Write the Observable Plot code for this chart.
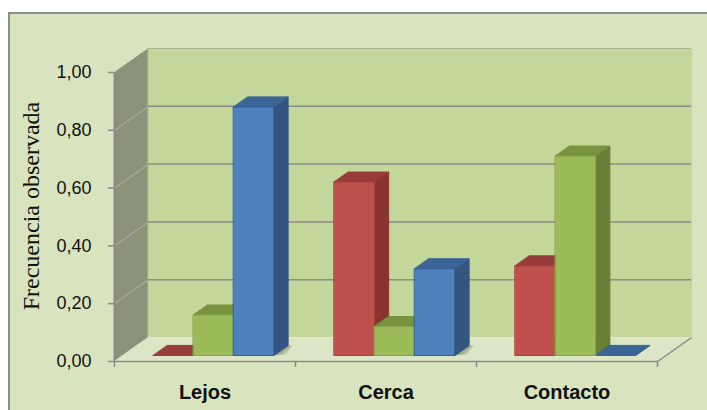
<!DOCTYPE html>
<html>
<head>
<meta charset="utf-8">
<script src="https://cdn.jsdelivr.net/npm/d3@7"></script>
<script src="https://cdn.jsdelivr.net/npm/@observablehq/plot@0.6"></script>
<style>
  html, body { margin: 0; padding: 0; background: #ffffff; }
  #chart { position: relative; width: 707px; height: 410px; overflow: hidden; }
  #frame {
    position: absolute; left: 8px; top: 12px; width: 720px; height: 420px;
    background: #d8e4bd; border: 2px solid #8e8e8e; box-sizing: border-box;
  }
  #chart svg { position: absolute; left: 0; top: 0; background: transparent; overflow: visible; }
</style>
</head>
<body>
<div id="chart"><div id="frame"></div></div>
<script>
// Observed frequency per distance category, one array per series
const categories = ["Lejos", "Cerca", "Contacto"];
const serie1 = [0.00, 0.60, 0.31];
const serie2 = [0.14, 0.10, 0.69];
const serie3 = [0.86, 0.30, 0.00];
const yTicks = [0, 0.2, 0.4, 0.6, 0.8, 1.0];
const yTitle = "Frecuencia observada";

const series = [serie1, serie2, serie3];

// Colours for each series: front face, top face, side face, outline
const palette = [
  {front: "#c0504d", top: "#973c3a", side: "#8a3432", edge: "#a4413e"},
  {front: "#9bbb59", top: "#77933d", side: "#687f36", edge: "#87a54a"},
  {front: "#4f81bd", top: "#3b6497", side: "#33557f", edge: "#2e5d97"}
];

// Layout
const W = 707, H = 410;
const ML = 114, MR = 50, MT = 72, MB = 49;
const PX_X = (W - ML - MR) / categories.length; // pixels per category
const PX_Y = H - MT - MB;                        // pixels per unit of frequency

// Oblique depth of the walls, converted to data units
const DX = 34 / PX_X, DY = 24 / PX_Y;
const F0 = 0.25;      // depth of the bars' front face (fraction of the floor depth)
const B = 0.42;       // depth of the bars themselves
const BAR = 1 / 4.5;  // bar width in category units
const GAP = 0.75;     // leading gap in bar widths

// Polygon faces, flattened to vertex rows for a closed line mark
function polys(list) {
  const rows = [];
  list.forEach((p, k) => p.pts.forEach(([x, y]) => rows.push({id: p.id ?? k, x, y, fill: p.fill, stroke: p.stroke})));
  return rows;
}

const sides = [], tops = [], fronts = [], shadows = [];
categories.forEach((c, i) => {
  series.forEach((s, j) => {
    const v = s[i], col = palette[j];
    const x1 = i + (GAP + j) * BAR + F0 * DX, x2 = x1 + BAR;
    const y0 = F0 * DY, y1 = v + F0 * DY;
    const bx = B * DX, by = B * DY;
    const id = `${c}-${j}`;
    if (v > 0) {
      // soft shadow cast on the floor to the right of the bar
      [4, 8, 12].forEach((w, k) => {
        const sw = w / PX_X;
        shadows.push({id: `${id}h${k}`, fill: "#2a3320", stroke: "none",
          pts: [[x2, y0], [x2 + bx, y0 + by], [x2 + bx + sw * 0.4, y0 + by], [x2 + sw, y0 + 1 / PX_Y]]});
      });
      sides.push({id: id + "s", fill: col.side, stroke: col.side,
        pts: [[x2, y0], [x2 + bx, y0 + by], [x2 + bx, y1 + by], [x2, y1]]});
      fronts.push({id: id + "f", fill: col.front, stroke: col.edge,
        pts: [[x1, y0], [x2, y0], [x2, y1], [x1, y1]]});
    }
    tops.push({id: id + "t", fill: col.top, stroke: col.top,
      pts: [[x1, y1], [x2, y1], [x2 + bx, y1 + by], [x1 + bx, y1 + by]]});
  });
});

const nCat = categories.length;
const walls = [
  {id: "side", fill: "#8a927a", stroke: "#8a927a", pts: [[0, 0], [DX, DY], [DX, 1 + DY], [0, 1]]},
  {id: "back", fill: "#c4d79b", stroke: "#c4d79b", pts: [[DX, DY], [nCat + DX, DY], [nCat + DX, 1 + DY], [DX, 1 + DY]]},
  {id: "floor", fill: "#dce6c6", stroke: "#e2eacf", pts: [[0, 0], [nCat, 0], [nCat + DX, DY], [DX, DY]]}
];

const fmt = d => d.toFixed(2).replace(".", ",");
const face = (rows, extra = {}) => Plot.line(rows, {x: "x", y: "y", z: "id", fill: "fill", stroke: "stroke", strokeWidth: 1, curve: "linear-closed", strokeLinejoin: "round", ...extra});

const chart = Plot.plot({
  width: W, height: H,
  marginLeft: ML, marginRight: MR, marginTop: MT, marginBottom: MB,
  x: {domain: [0, nCat], axis: null},
  y: {domain: [0, 1], axis: null},
  color: {type: "identity"},
  style: {background: "transparent", overflow: "visible"},
  marks: [
    face(polys(walls)),
    // back-wall gridlines
    Plot.ruleY(yTicks.filter(v => v > 0 && v < 1), {y: v => v + DY, x1: () => DX, x2: () => nCat + DX, stroke: "#8a8a8a", strokeWidth: 1.5}),
    Plot.ruleY([1], {y: v => v + DY, x1: () => DX, x2: () => nCat + DX, stroke: "#aab48f", strokeWidth: 1}),
    // side-wall gridlines
    Plot.link(yTicks.filter(v => v > 0 && v < 1), {x1: () => 0, y1: v => v, x2: () => DX, y2: v => v + DY, stroke: "#a3a79a", strokeWidth: 1.5}),
    // bars
    face(polys(shadows), {fillOpacity: 0.16}),
    face(polys(sides)),
    face(polys(tops)),
    face(polys(fronts)),
    // front axis, floor edges and ticks
    Plot.ruleX([0], {x: d => d, y1: () => 0, y2: () => 1, stroke: "#8a8a8a", strokeWidth: 1.5}),
    Plot.link([0], {x1: () => 0, y1: () => 0, x2: () => nCat, y2: () => 0, stroke: "#8a8a8a", strokeWidth: 1.5}),
    Plot.link([0], {x1: () => nCat, y1: () => 0, x2: () => nCat + DX, y2: () => DY, stroke: "#8a8a8a", strokeWidth: 1.5}),
    Plot.ruleY(yTicks, {y: d => d, x1: () => 0, x2: () => -6 / PX_X, stroke: "#8a8a8a", strokeWidth: 1.5}),
    Plot.ruleX(d3.range(nCat + 1), {x: d => d, y1: () => 0, y2: () => -6 / PX_Y, stroke: "#8a8a8a", strokeWidth: 1.5}),
    // labels
    Plot.text(yTicks, {x: () => 0, y: d => d, text: fmt, dx: -23, textAnchor: "end", fontSize: 18, fontFamily: "Liberation Sans", fill: "#111"}),
    Plot.text(categories, {x: (d, i) => i + 0.5, y: () => 0, text: d => d, dy: 31, fontSize: 20, fontWeight: "bold", fontFamily: "Liberation Sans", fill: "#111"}),
    Plot.text([yTitle], {frameAnchor: "left", textAnchor: "middle", text: d => d, rotate: -90, dx: -83, dy: -11, fontSize: 24, fontFamily: "Liberation Serif", fill: "#111"})
  ]
});

document.getElementById("chart").appendChild(chart);
</script>
</body>
</html>
